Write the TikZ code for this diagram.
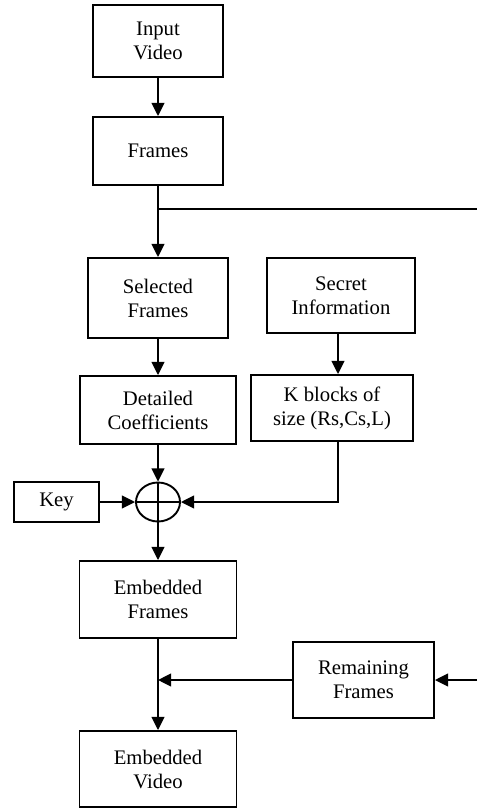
\documentclass[tikz,border=0pt]{standalone}
\usepackage{fontspec}
\setmainfont{Liberation Serif}
\usetikzlibrary{arrows.meta,shapes.geometric}
\begin{document}
\begin{tikzpicture}[x=0.58pt,y=-0.58pt,line join=miter,>={Triangle[length=7.6pt,width=7.4pt]},line width=1.1pt]
	\tikzset{blk/.style={draw,align=center,inner sep=0pt,font=\fontsize{12}{13.9}\selectfont}}
	\useasboundingbox (0,0) rectangle (477,808);
	\node[blk,minimum width=75.4pt,minimum height=41.76pt] (invid) at (158,41) {Input\\Video};
	\node[blk,minimum width=75.4pt,minimum height=39.44pt] (frames) at (158,151) {Frames};
	\node[blk,minimum width=81.2pt,minimum height=46.4pt] (sel) at (158,298) {Selected\\Frames};
	\node[blk,minimum width=85.84pt,minimum height=43.5pt] (secret) at (341,295.5) {Secret\\Information};
	\node[blk,minimum width=93.96pt,minimum height=38.28pt] (kblk) at (332,408) {K blocks of\\size (Rs,Cs,L)};
	\node[blk,minimum width=90.48pt,minimum height=39.44pt] (dcoef) at (158,410) {Detailed\\Coefficients};
	\node[blk,minimum width=49.3pt,minimum height=23.2pt] (key) at (56.5,502) {Key};
	\node[draw,ellipse,inner sep=0pt,minimum width=25.52pt,minimum height=22.62pt] (xor) at (158,502) {};
	\node[blk,minimum width=91.06pt,minimum height=44.66pt] (embf) at (158,599.5) {Embedded\\Frames};
	\node[blk,minimum width=81.78pt,minimum height=44.08pt] (remf) at (363.5,680) {Remaining\\Frames};
	\node[blk,minimum width=91.06pt,minimum height=44.08pt] (embv) at (158,769) {Embedded\\Video};
	\coordinate (fjoin) at (158,209);
	\coordinate (fout) at (477,209);
	\coordinate (rin) at (477,680);
	\coordinate (kturn) at (338,502);
	\coordinate (rjoin) at (158,680);
	\draw (xor.north)--(xor.south) (xor.west)--(xor.east);
	\draw[->] (invid)--(frames);
	\draw[->] (frames)--(sel);
	\draw (fjoin)--(fout);
	\draw[->] (sel)--(dcoef);
	\draw[->] (secret.south -| kturn)--(kblk.north -| kturn);
	\draw[->] (kblk.south -| kturn)--(kturn)--(xor.east);
	\draw[->] (dcoef)--(xor);
	\draw[->] (key)--(xor);
	\draw[->] (xor)--(embf);
	\draw[->] (embf)--(embv);
	\draw[->] (rin)--(remf);
	\draw[->] (remf)--(rjoin);
\end{tikzpicture}
\end{document}
